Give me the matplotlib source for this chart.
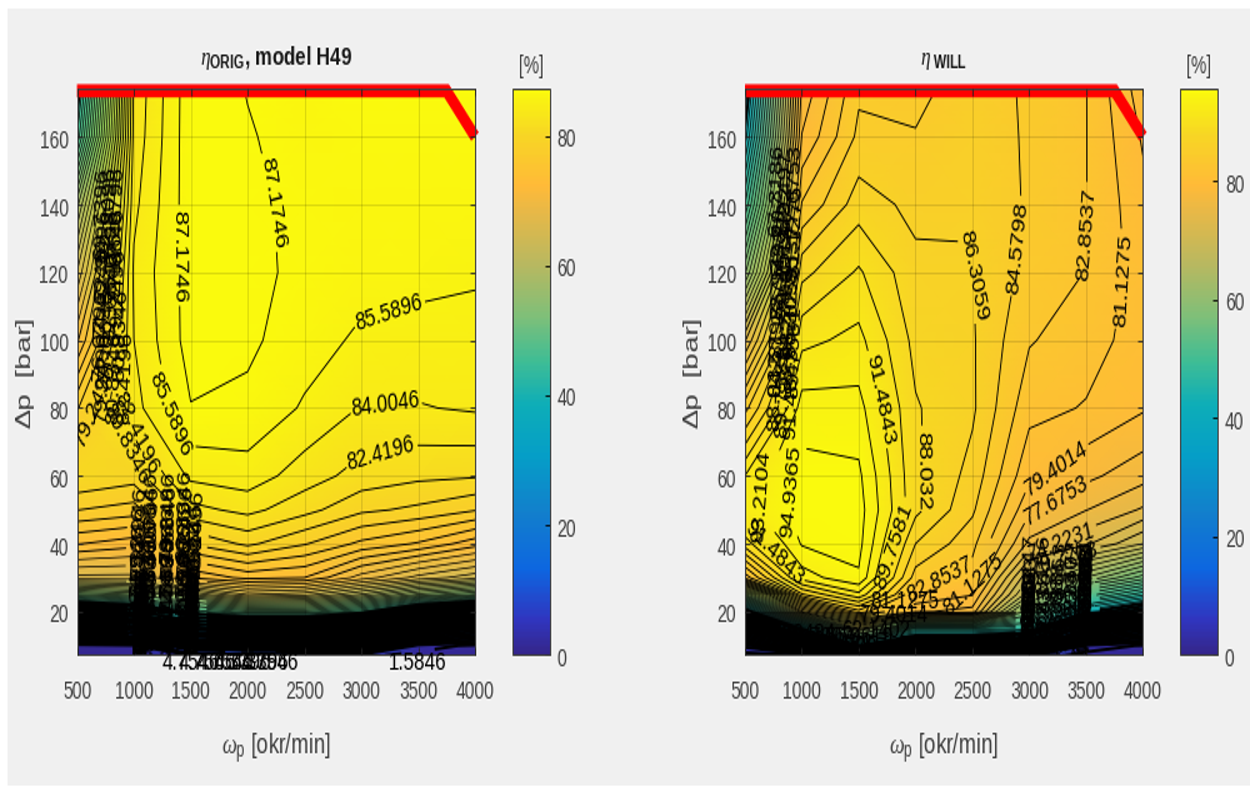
import numpy as np
from matplotlib import pyplot as plt
from matplotlib.colors import LinearSegmentedColormap
from matplotlib.patches import Rectangle
from PIL import Image

plt.rcParams['font.family'] = ['Liberation Sans', 'DejaVu Sans']
plt.rcParams['mathtext.fontset'] = 'custom'
plt.rcParams['mathtext.rm'] = 'Liberation Sans'
plt.rcParams['mathtext.bf'] = 'Liberation Sans:bold'
plt.rcParams['mathtext.it'] = 'Liberation Serif:italic'

omega = [500, 1000, 1500, 2000, 2500, 3000, 3500, 4000]
dp = [7, 10, 15, 20, 25, 30, 40, 50, 60, 80, 100, 120, 140, 160, 175]

# efficiency tables, one row per dp, one column per omega
eta_orig = [
    [0.5, 0.8, 1.2, 2.0, 2.0, 2.0, 1.0, 1.0],
    [0.8, 1.2, 10.0, 14.0, 14.0, 12.0, 2.5, 1.2],
    [14.0, 18.0, 30.0, 32.0, 32.0, 28.0, 18.0, 13.0],
    [34.0, 38.0, 46.0, 50.0, 50.0, 46.0, 37.0, 32.0],
    [52.0, 54.0, 60.0, 65.0, 64.0, 60.0, 55.0, 52.0],
    [66.0, 66.0, 71.5, 73.4, 72.9, 69.0, 66.0, 64.0],
    [73.0, 72.0, 77.8, 79.6, 77.8, 75.7, 74.3, 72.0],
    [77.7, 77.0, 81.9, 82.9, 81.4, 79.6, 78.9, 77.8],
    [80.8, 80.0, 84.4, 84.9, 83.2, 81.8, 81.2, 81.0],
    [77.5, 83.4, 87.1, 86.8, 85.4, 83.9, 83.9, 84.2],
    [71.0, 84.0, 87.9, 87.5, 86.3, 85.3, 85.1, 85.0],
    [65.0, 84.3, 87.9, 87.6, 86.8, 86.2, 86.0, 85.8],
    [58.0, 83.6, 88.1, 87.5, 86.8, 86.6, 86.5, 86.3],
    [46.0, 83.0, 88.2, 87.3, 86.6, 86.8, 86.8, 86.7],
    [42.0, 82.8, 88.2, 87.1, 86.6, 87.0, 87.0, 87.0],
]
eta_will = [
    [0.8, 1.0, 4.0, 4.0, 3.0, 3.0, 1.0, 1.0],
    [4.0, 16.0, 42.0, 32.0, 32.0, 25.0, 3.0, 1.5],
    [18.0, 42.0, 68.0, 48.0, 48.0, 46.0, 20.0, 14.0],
    [38.0, 72.0, 84.0, 78.0, 77.0, 58.0, 42.0, 36.0],
    [60.0, 86.0, 91.0, 81.0, 79.5, 66.0, 53.0, 47.0],
    [80.0, 92.3, 94.7, 83.8, 82.0, 69.0, 62.0, 56.0],
    [89.0, 95.1, 95.5, 86.3, 83.4, 75.5, 72.8, 69.0],
    [92.6, 95.7, 95.7, 88.5, 84.9, 78.0, 76.0, 74.0],
    [91.5, 95.6, 95.3, 88.4, 85.7, 79.8, 78.1, 76.6],
    [84.0, 94.0, 93.8, 88.2, 86.6, 81.7, 81.0, 79.6],
    [74.0, 91.0, 92.0, 87.5, 86.5, 83.0, 81.9, 80.3],
    [60.0, 87.5, 90.0, 86.8, 86.35, 84.0, 82.8, 80.3],
    [50.0, 83.0, 87.2, 85.8, 86.25, 84.3, 82.9, 79.9],
    [42.0, 79.5, 85.0, 84.7, 85.8, 84.3, 82.9, 79.2],
    [38.0, 78.0, 84.2, 84.0, 85.5, 84.3, 82.9, 78.4],
]

omega_limit = [500, 3750, 4000]
dp_limit = [173.5, 173.5, 160]

parula_pos = [0, 0.06, 0.15, 0.25, 0.35, 0.44, 0.52, 0.6, 0.69, 0.78, 0.83, 0.92, 1]
parula_col = ['#35268a', '#3035bf', '#0d66e0', '#127fcc', '#059ec7', '#0dadb8', '#40bd94',
              '#80bf78', '#b8b860', '#e6b848', '#ffba38', '#f7d624', '#fafa0d']
parula = LinearSegmentedColormap.from_list('parula', list(zip(parula_pos, parula_col)))

orig_levels = 87.1746 - 1.585 * np.arange(55)
will_levels = 94.9365 - 1.72612 * np.arange(55)
will_levels[13] = 72.497
orig_levels = orig_levels[orig_levels > 0][::-1]
will_levels = will_levels[will_levels > 0][::-1]

orig_labels = [(1345, 125), (2170, 140), (3235, 110), (1275, 77), (3210, 80), (1080, 75),
               (3180, 65), (965, 71), (730, 80)]
orig_pile = [(w, d) for w in (720, 790, 860) for d in (90, 102, 114, 126, 138)]
orig_pile += [(w, d) for w in (1150, 1300, 1450) for d in (19, 24, 29, 34, 39, 44, 49)]
orig_pile += [(w, d) for w in (1040, 1540) for d in (29, 34, 39, 44)]
orig_floor = [(w, 8) for w in (1500, 1650, 1800, 1950, 2100, 2200, 3500)]
# (omega, lowest dp, highest dp, shift of the labels away from the opened lines)
orig_strips = [(1000, 12, 22, 70), (1590, 12, 24, -70)]

will_labels = [(3390, 132), (2620, 120), (2860, 128), (3830, 118), (1640, 82),
               (2030, 62), (3260, 60), (3260, 50), (3270, 42), (3310, 36), (580, 56),
               (1030, 55), (750, 37), (2200, 32), (2500, 29), (1810, 40)]
will_pile = [(w, d) for w in (3130, 3250, 3370) for d in (14, 19, 24, 29)]
will_pile += [(w, d) for w in (3010, 3490) for d in (24, 29)]
will_pile += [(w, d) for w in (790, 860, 930) for d in (85, 97, 109, 121, 133, 145)]
will_floor = [(1000, 14), (1150, 13), (1300, 11), (1450, 10), (1500, 13),
              (1650, 15), (1800, 20), (1900, 24)]
will_strips = [(2930, 13, 22, 70), (3570, 20, 30, -70)]


def px_box(left, top, right, bottom):
    return [left / 1250, 1 - bottom / 789, (right - left) / 1250, (bottom - top) / 789]


def draw_panel(box, cbox, eta, levels, vmax, black_below, title, labels, pile, floor, strips,
               title_y, floor_y=None):
    ax = fig.add_axes(px_box(*box))
    mesh = ax.pcolormesh(omega, dp, eta, cmap=parula, vmin=0, vmax=vmax, shading='gouraud')
    # the lowest lines run so close together that they close up to solid black
    widths = np.where(levels < black_below, 1.4, np.where(levels < 70, 0.5, 0.65))
    cs = ax.contour(omega, dp, eta, levels=levels, colors='k', linewidths=widths)

    # the piled-up labels stand upright and only open a thin gap in the lines
    ax.clabel(cs, fmt='%g', fontsize=11, manual=pile, inline=True, inline_spacing=-18)
    for t in ax.texts:
        t.set_rotation(88)
    for w, d_low, d_high, shift in strips:
        n_done = len(ax.texts)
        points = [(w, d) for d in np.arange(d_low, d_high, 1.0)]
        ax.clabel(cs, fmt='%g', fontsize=11, manual=points, inline=True, inline_spacing=-23)
        for t in ax.texts[n_done:]:
            t.set_rotation(88)
            t.set_x(w + shift)
    n_pile = len(ax.texts)
    ax.clabel(cs, fmt='%g', fontsize=11, manual=floor, inline=True, inline_spacing=-10)
    for t in ax.texts[n_pile:]:
        t.set_rotation(0)
        if floor_y is not None:
            t.set_y(floor_y)
            t.set_clip_on(False)
    ax.clabel(cs, fmt='%g', fontsize=11, manual=labels, inline=True, inline_spacing=2)

    ax.plot(omega_limit, dp_limit, color='red', lw=5.6, clip_on=False, zorder=2.4,
            solid_joinstyle='miter', solid_capstyle='butt')

    ax.set_xlim(500, 4000)
    ax.set_ylim(7.3, 174.2)
    ax.set_xticks(omega)
    ax.set_yticks(np.arange(20, 161, 20))
    ax.grid(True, color='k', alpha=0.15, lw=0.6)
    ax.set_axisbelow(False)
    ax.tick_params(direction='in', length=3, width=0.6, top=True, right=True,
                   labelsize=10, labelcolor='#404040', color='#262626', pad=5)
    ax.tick_params(axis='x', pad=10)
    for spine in ax.spines.values():
        spine.set_color('#404040')
        spine.set_linewidth(0.7)
    ax.set_xlabel(r'$\omega_{\mathrm{p}}$ [okr/min]', fontsize=12, color='#404040', labelpad=11)
    ax.set_ylabel(r'$\Delta$p  [bar]', fontsize=12.5, color='#404040', labelpad=1)
    fig.text((box[0] + box[2]) / 2 / 1250, 1 - title_y / 789, title, fontsize=11,
             fontweight='bold', color='#1a1a1a', ha='center', va='center')

    cax = fig.add_axes(px_box(*cbox))
    cb = fig.colorbar(mesh, cax=cax)
    cb.set_ticks([0, 20, 40, 60, 80])
    cax.tick_params(direction='in', length=3, width=0.6, labelsize=10, labelcolor='#404040', pad=4)
    cb.outline.set_edgecolor('#404040')
    cb.outline.set_linewidth(0.7)
    fig.text((cbox[0] + cbox[2]) / 2 / 1250, 1 - 67 / 789, '[%]', fontsize=10, color='#404040',
             ha='center', va='center')


# drawn squat on purpose, the picture is stretched to its final height below
fig = plt.figure(figsize=(10, 4.64), dpi=100, facecolor='white')
fig.patches.append(Rectangle((7 / 1250, 1 - 786 / 789), 1243 / 1250, 776 / 789,
                             transform=fig.transFigure, facecolor='#f0f0f0', edgecolor='none',
                             figure=fig, zorder=-1))

draw_panel((77, 90, 475, 655), (512, 90, 550, 655), eta_orig, orig_levels, 87.3, 45,
           r'$\eta_{\mathbf{ORIG}}$, model H49', orig_labels, orig_pile, orig_floor, orig_strips,
           58, floor_y=5.5)
draw_panel((745, 90, 1143, 655), (1180, 90, 1218, 655), eta_will, will_levels, 95.6, 42,
           r'$\eta_{\ \mathbf{WILL}}$', will_labels, will_pile, will_floor, will_strips, 62)

fig.savefig('out.png', dpi=100, facecolor=fig.get_facecolor())
Image.open('out.png').convert('RGB').resize((1250, 789), Image.BICUBIC).save('out.png')
